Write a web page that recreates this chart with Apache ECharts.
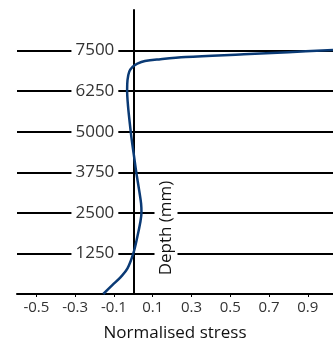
<!DOCTYPE html>
<html>
<head>
<meta charset="utf-8">
<script src="https://cdn.jsdelivr.net/npm/echarts@6/dist/echarts.min.js"></script>
<style>
html,body{margin:0;padding:0;background:#fff;}
#chart{width:333px;height:349px;}
</style>
</head>
<body>
<div id="chart"></div>
<script>
// Normalised stress (x) vs depth in mm (y)
const stress = [-0.155, -0.107, -0.064, -0.03, 0.0, 0.021, 0.035, 0.042, 0.04, 0.03, 0.016, 0.004, -0.008, -0.018, -0.027, -0.032, -0.03, -0.021, -0.004, 0.021, 0.06, 0.14, 0.27, 0.57, 0.80, 1.03];
const depth  = [0, 280, 530, 790, 1250, 1770, 2180, 2500, 2790, 3200, 3720, 4230, 4740, 5250, 5770, 6280, 6590, 6850, 7000, 7100, 7180, 7235, 7300, 7385, 7450, 7520];
const xTickLabels = [-0.5, -0.3, -0.1, 0.1, 0.3, 0.5, 0.7, 0.9];
const yTickLabels = [1250, 2500, 3750, 5000, 6250, 7500];
const xTitle = 'Normalised stress';
const yTitle = 'Depth (mm)';

const FONT = '"Open Sans", "Noto Sans", sans-serif';
const X_MIN = -0.6, X_MAX = 1.03;
const GRID = {left: 17, right: 0, top: 10, bottom: 55};
const W = 333;
// place the vertical axis (line + labels) at stress = 0
const yAxisOffset = -((0 - X_MIN) / (X_MAX - X_MIN)) * (W - GRID.left - GRID.right);

const chart = echarts.init(document.getElementById('chart'), null, {renderer: 'canvas'});
chart.setOption({
  animation: false,
  backgroundColor: '#fff',
  grid: Object.assign({containLabel: false, outerBoundsMode: 'none'}, GRID),
  xAxis: {
    type: 'value',
    min: X_MIN,
    max: X_MAX,
    interval: 0.1,
    name: xTitle,
    nameLocation: 'middle',
    nameGap: 31,
    nameTextStyle: {fontSize: 17, color: '#111', fontFamily: FONT},
    axisLine: {show: true, onZero: false, lineStyle: {color: '#000', width: 2}},
    axisTick: {show: true, length: 3, lineStyle: {color: '#000', width: 1}, customValues: xTickLabels},
    axisLabel: {
      customValues: xTickLabels,
      fontSize: 15, color: '#333', fontFamily: FONT, margin: 6,
      formatter: v => v.toFixed(1)
    },
    splitLine: {show: false}
  },
  yAxis: {
    type: 'value',
    min: 0,
    max: 8750,
    interval: 1250,
    position: 'left',
    offset: yAxisOffset,
    axisLine: {show: true, onZero: false, lineStyle: {color: '#000', width: 2}},
    axisTick: {show: false},
    axisLabel: {
      customValues: yTickLabels,
      fontSize: 17, color: '#333', fontFamily: FONT,
      backgroundColor: '#fff', padding: [0, 4, 0, 4], margin: 15,
      formatter: v => String(v)
    },
    splitLine: {show: true, showMinLine: false, showMaxLine: false, lineStyle: {color: '#000', width: 2}}
  },
  graphic: [{
    type: 'text',
    x: 166, y: 228,
    rotation: Math.PI / 2,
    z: 100,
    style: {
      text: yTitle,
      font: '17px ' + FONT,
      fill: '#111',
      align: 'center',
      verticalAlign: 'middle',
      backgroundColor: '#fff',
      padding: [3, 4]
    }
  }],
  series: [{
    type: 'line',
    data: stress.map((s, i) => [s, depth[i]]),
    smooth: 0.35,
    showSymbol: false,
    clip: true,
    lineStyle: {color: '#0a3a75', width: 2.5},
    z: 5
  }]
});
</script>
</body>
</html>
